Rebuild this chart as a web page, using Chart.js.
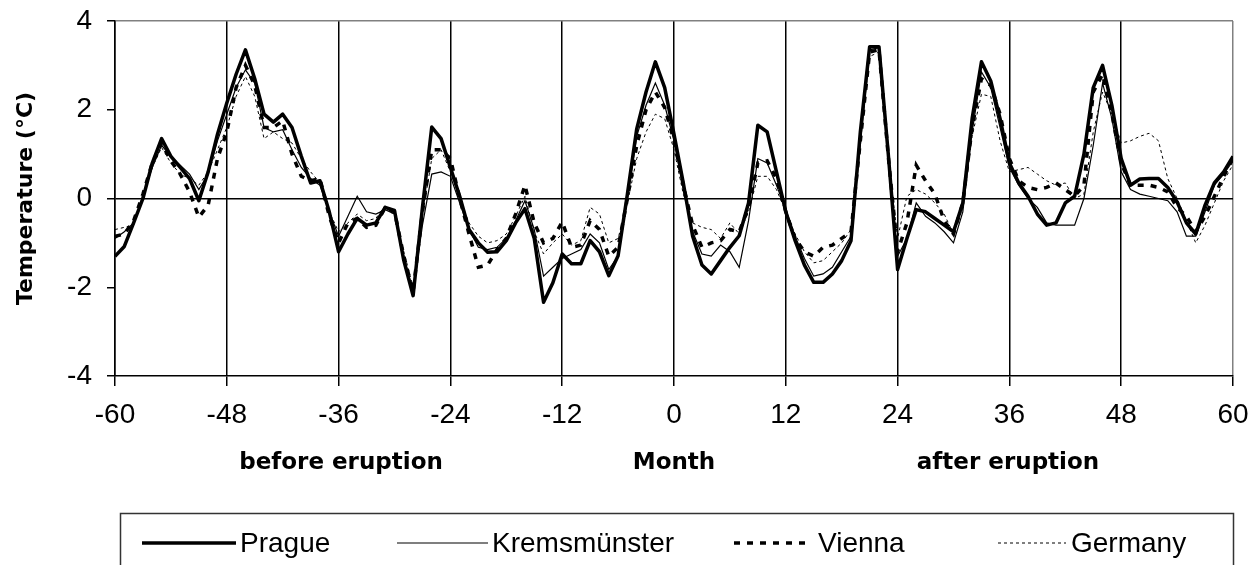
<!DOCTYPE html>
<html><head><meta charset="utf-8">
<script src="https://cdn.jsdelivr.net/npm/chart.js@4/dist/chart.umd.min.js"></script>
<style>html,body{margin:0;padding:0;background:#fff;} #wrap{width:1251px;height:565px;position:relative;overflow:hidden;}</style>
</head><body><div id="wrap"><canvas id="c" width="1251" height="565"></canvas></div>
<script>
const months = [-60,-59,-58,-57,-56,-55,-54,-53,-52,-51,-50,-49,-48,-47,-46,-45,-44,-43,-42,-41,
 -40,-39,-38,-37,-36,-35,-34,-33,-32,-31,-30,-29,-28,-27,-26,-25,-24,-23,-22,-21,
 -20,-19,-18,-17,-16,-15,-14,-13,-12,-11,-10,-9,-8,-7,-6,-5,-4,-3,-2,-1,
 0,1,2,3,4,5,6,7,8,9,10,11,12,13,14,15,16,17,18,19,
 20,21,22,23,24,25,26,27,28,29,30,31,32,33,34,35,36,37,38,39,
 40,41,42,43,44,45,46,47,48,49,50,51,52,53,54,55,56,57,58,59,60];

const prague = [-1.30,-1.08,-0.55,0.00,0.80,1.35,0.95,0.70,0.45,-0.05,0.60,1.45,2.15,2.80,3.35,2.70,1.90,1.72,1.90,1.60,
 0.95,0.35,0.40,-0.30,-1.20,-0.80,-0.45,-0.60,-0.55,-0.20,-0.27,-1.40,-2.19,-0.20,1.61,1.35,0.70,0.05,-0.70,-1.00,
 -1.21,-1.20,-0.95,-0.55,-0.23,-0.90,-2.34,-1.90,-1.25,-1.47,-1.47,-0.95,-1.20,-1.74,-1.29,0.10,1.57,2.40,3.08,2.50,
 1.45,0.35,-0.85,-1.50,-1.70,-1.40,-1.10,-0.84,-0.10,1.65,1.50,0.60,-0.30,-0.95,-1.50,-1.89,-1.89,-1.70,-1.40,-0.95,
 1.50,3.42,3.42,1.00,-1.60,-0.90,-0.25,-0.30,-0.45,-0.60,-0.75,-0.10,1.80,3.08,2.65,1.80,0.80,0.35,0.05,-0.35,
 -0.60,-0.55,-0.10,0.05,1.00,2.50,3.00,2.10,0.90,0.30,0.44,0.45,0.45,0.25,-0.08,-0.55,-0.80,-0.15,0.35,0.60,0.95];

const kremsmuenster = [-0.90,-0.75,-0.55,0.05,0.70,1.20,0.95,0.75,0.55,0.20,0.55,1.30,1.90,2.50,2.90,2.60,1.60,1.50,1.55,1.10,
 0.70,0.45,0.30,-0.30,-0.85,-0.40,0.05,-0.30,-0.35,-0.25,-0.35,-1.30,-2.10,-0.60,0.55,0.60,0.50,-0.10,-0.70,-1.10,
 -1.15,-1.10,-0.90,-0.50,-0.05,-0.70,-1.75,-1.55,-1.35,-1.25,-1.15,-0.80,-1.00,-1.60,-1.30,0.00,1.40,2.10,2.60,2.10,
 1.30,0.20,-0.75,-1.25,-1.30,-1.05,-1.20,-1.55,-0.50,0.90,0.80,0.30,-0.25,-0.85,-1.35,-1.75,-1.70,-1.55,-1.20,-0.85,
 1.20,3.35,3.40,0.90,-1.30,-0.90,-0.10,-0.40,-0.55,-0.75,-1.00,-0.30,1.50,2.85,2.50,1.60,0.70,0.30,0.00,-0.20,
 -0.55,-0.60,-0.60,-0.60,0.00,1.20,2.60,1.80,0.60,0.20,0.10,0.05,0.00,-0.05,-0.30,-0.85,-0.85,-0.30,0.30,0.55,0.85];

const vienna = [-0.85,-0.80,-0.50,0.10,0.80,1.25,0.85,0.55,0.15,-0.42,-0.15,0.90,1.50,2.50,3.00,2.55,1.60,1.60,1.75,1.00,
 0.50,0.40,0.45,-0.40,-1.00,-0.55,-0.45,-0.65,-0.60,-0.20,-0.30,-1.30,-2.10,-0.30,1.10,1.10,0.90,0.00,-0.80,-1.55,
 -1.50,-1.15,-0.90,-0.35,0.30,-0.55,-1.00,-0.90,-0.53,-1.10,-1.05,-0.50,-0.70,-1.30,-1.10,0.00,1.20,2.00,2.40,2.05,
 1.30,0.30,-0.60,-1.10,-1.00,-0.95,-0.70,-0.75,-0.20,0.80,0.85,0.45,-0.30,-0.90,-1.20,-1.30,-1.10,-1.05,-0.90,-0.75,
 1.30,3.30,3.35,0.95,-1.20,-0.55,0.75,0.40,0.10,-0.50,-0.80,-0.10,1.60,2.70,2.55,1.90,0.90,0.40,0.25,0.20,
 0.25,0.35,0.20,0.05,0.30,2.40,2.80,1.90,0.80,0.30,0.30,0.30,0.25,0.15,-0.20,-0.40,-0.75,-0.40,0.05,0.50,0.90];

const germany = [-0.70,-0.65,-0.60,0.10,0.70,1.15,0.80,0.55,0.45,0.30,0.60,1.10,1.60,2.30,2.75,2.30,1.35,1.50,1.35,1.25,
 0.90,0.60,0.35,-0.30,-0.75,-0.55,-0.35,-0.50,-0.45,-0.15,-0.40,-1.20,-2.00,-0.40,0.90,1.10,0.60,0.00,-0.55,-0.85,
 -1.00,-0.95,-0.80,-0.40,0.05,-0.75,-1.25,-1.00,-0.80,-1.05,-0.95,-0.20,-0.35,-1.00,-0.90,-0.10,0.90,1.50,1.90,1.80,
 1.10,0.10,-0.55,-0.65,-0.70,-0.90,-0.55,-0.80,-0.30,0.50,0.50,0.20,-0.30,-0.80,-1.20,-1.45,-1.40,-1.20,-1.00,-0.70,
 1.40,3.20,3.30,0.90,-0.90,0.05,0.20,0.10,-0.10,-0.35,-0.80,-0.20,1.40,2.35,2.30,1.30,0.60,0.65,0.70,0.55,
 0.40,0.30,0.35,0.00,0.10,1.50,2.40,1.90,1.25,1.30,1.40,1.47,1.30,0.45,0.00,-0.50,-1.00,-0.60,-0.10,0.40,0.76];

const seriesNames = ['Prague', 'Kremsmünster', 'Vienna', 'Germany'];
const yTicks = [-4, -2, 0, 2, 4];
const xTicks = [-60, -48, -36, -24, -12, 0, 12, 24, 36, 48, 60];

const pts = arr => months.map((m, i) => ({x: m, y: arr[i]}));

const legendPos = [
  {x1: 142, x2: 236, tx: 240},
  {x1: 397, x2: 488, tx: 492},
  {x1: 734, x2: 812, tx: 818},
  {x1: 998, x2: 1066, tx: 1071}
];

const extraText = {
  id: 'extraText',
  afterDraw(chart) {
    const ctx = chart.ctx;
    ctx.save();
    ctx.fillStyle = '#000';
    ctx.font = 'bold 23px "DejaVu Sans"';
    ctx.textAlign = 'center';
    ctx.textBaseline = 'middle';
    ctx.fillText('before eruption', 341, 463);
    ctx.fillText('after eruption', 1008, 463);
    // legend box
    ctx.strokeStyle = '#333';
    ctx.lineWidth = 1.5;
    ctx.setLineDash([]);
    ctx.strokeRect(120.5, 513.5, 1113, 80);
    const ly = 543;
    chart.data.datasets.forEach((ds, i) => {
      const p = legendPos[i];
      ctx.save();
      ctx.strokeStyle = ds.borderColor;
      ctx.lineWidth = ds.borderWidth;
      ctx.setLineDash(ds.borderDash || []);
      ctx.lineCap = 'butt';
      ctx.beginPath();
      ctx.moveTo(p.x1, ly);
      ctx.lineTo(p.x2, ly);
      ctx.stroke();
      ctx.restore();
      ctx.fillStyle = '#000';
      ctx.font = '28px "Liberation Sans"';
      ctx.textAlign = 'left';
      ctx.textBaseline = 'middle';
      ctx.fillText(ds.label, p.tx, ly + 1);
    });
    ctx.restore();
  }
};

new Chart(document.getElementById('c'), {
  type: 'line',
  data: {
    datasets: [
      {label: seriesNames[0], data: pts(prague), borderColor: '#000', borderWidth: 3.5, borderDash: [], pointRadius: 0, tension: 0, borderJoinStyle: 'round', order: 1},
      {label: seriesNames[1], data: pts(kremsmuenster), borderColor: '#000', borderWidth: 1.2, borderDash: [], pointRadius: 0, tension: 0, order: 2},
      {label: seriesNames[2], data: pts(vienna), borderColor: '#000', borderWidth: 3.5, borderDash: [6, 7], pointRadius: 0, tension: 0, order: 3},
      {label: seriesNames[3], data: pts(germany), borderColor: '#000', borderWidth: 1, borderDash: [3, 3], pointRadius: 0, tension: 0, order: 4}
    ]
  },
  options: {
    responsive: false,
    animation: false,
    devicePixelRatio: 1,
    layout: {padding: {top: 21, right: 18, left: 0, bottom: 0}},
    plugins: {legend: {display: false}, tooltip: {enabled: false}},
    scales: {
      x: {
        type: 'linear', min: -60, max: 60,
        afterBuildTicks: s => { s.ticks = xTicks.map(v => ({value: v})); },
        afterFit: s => { s.height = 189; s.paddingLeft = 0; s.paddingRight = 0; },
        ticks: {font: {family: 'Liberation Sans', size: 28}, color: '#000', padding: 12, maxRotation: 0, autoSkip: false},
        grid: {color: c => (c.tick && c.tick.value === 60) ? '#808080' : '#000', lineWidth: 1.5, tickLength: 10, tickColor: '#000', drawOnChartArea: true},
        border: {color: '#000', width: 1.5},
        title: {display: true, text: 'Month', color: '#000', font: {family: 'DejaVu Sans', size: 23, weight: 'bold'}, padding: {top: 0, bottom: 88}}
      },
      y: {
        min: -4, max: 4,
        afterBuildTicks: s => { s.ticks = yTicks.map(v => ({value: v})); },
        afterFit: s => { s.width = 115; s.paddingTop = 0; s.paddingBottom = 0; },
        ticks: {font: {family: 'Liberation Sans', size: 28}, color: '#000', padding: 15},
        grid: {color: c => (c.tick && c.tick.value === 0) ? '#000' : ((c.tick && c.tick.value === 4) ? '#808080' : 'rgba(0,0,0,0)'), lineWidth: 1.5, tickLength: 8, tickColor: '#000'},
        border: {color: '#000', width: 1.5},
        title: {display: true, text: 'Temperature (°C)', color: '#000', font: {family: 'DejaVu Sans', size: 22, weight: 'bold'}, padding: {top: 13, bottom: 0}}
      }
    }
  },
  plugins: [extraText]
});
</script>
</body></html>
